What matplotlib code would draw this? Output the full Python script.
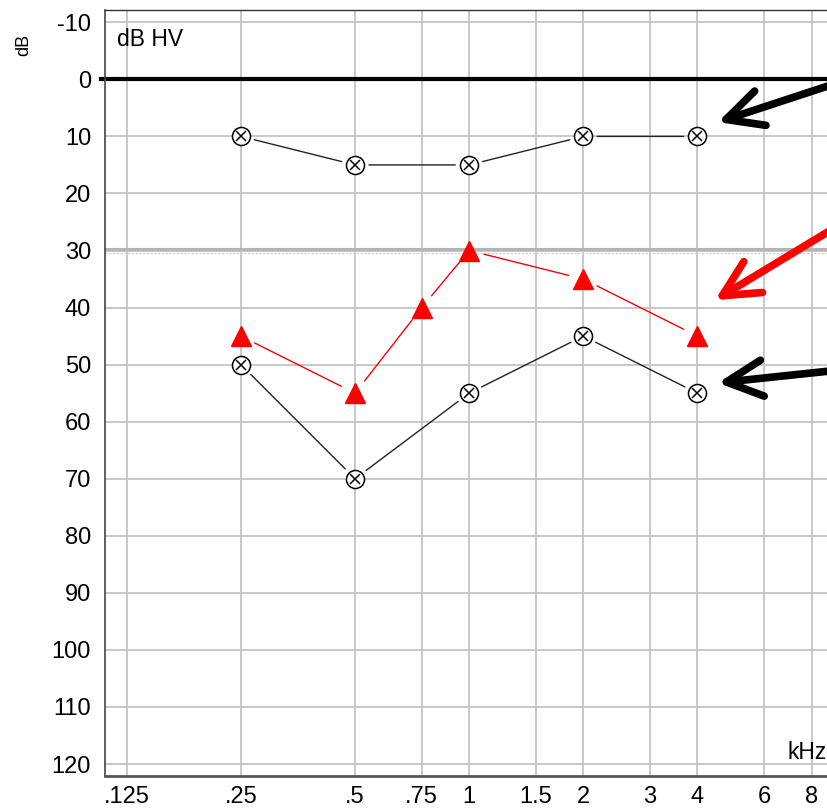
import matplotlib
matplotlib.use("Agg")
import matplotlib.pyplot as plt

plt.rcParams['font.family'] = ['Liberation Sans', 'DejaVu Sans']
plt.rcParams['axes.unicode_minus'] = False

# Datos del audiograma
frecuencias_ticks = [0.125, 0.25, 0.5, 0.75, 1, 1.5, 2, 3, 4, 6, 8]
etiquetas_x = ['.125', '.25', '.5', '.75', '1', '1.5', '2', '3', '4', '6', '8']
niveles_y = list(range(-10, 121, 10))

frec_negro = [0.25, 0.5, 1, 2, 4]
umbral_superior = [10, 15, 15, 10, 10]
umbral_inferior = [50, 70, 55, 45, 55]

frec_rojo = [0.25, 0.5, 0.75, 1, 2, 4]
umbral_rojo = [45, 55, 40, 30, 35, 45]

# Flechas (punta, cola) en coordenadas de datos
flechas = [
    ((4.53, 7.5), (10.1, -0.1), 'black'),
    ((4.45, 38.7), (10.1, 24.4), 'red'),
    ((4.53, 53.2), (10.1, 50.75), 'black'),
]


def segmentos(ax, xs, ys, color, hueco):
    for i in range(len(xs) - 1):
        ax.annotate('', xy=(xs[i + 1], ys[i + 1]), xytext=(xs[i], ys[i]),
                    arrowprops=dict(arrowstyle='-', color=color, lw=1,
                                    shrinkA=hueco, shrinkB=hueco))


fig = plt.figure(figsize=(8.28, 8.09), dpi=100)
ax = fig.add_axes([105 / 828, 1 - 776 / 809, 735 / 828, (776 - 10.3) / 809])
ax.set_xscale('log', base=2)
ax.set_xlim(0.1095, 9.51)
ax.set_ylim(122.1, -12.1)
ax.set_xticks(frecuencias_ticks)
ax.set_xticklabels(etiquetas_x)
ax.minorticks_off()
ax.set_yticks(niveles_y)
ax.tick_params(axis='both', length=0, labelsize=17)
ax.tick_params(axis='y', pad=10)
ax.tick_params(axis='x', pad=7)
ax.grid(True, color='#c4c4c4', lw=1.3)
ax.set_axisbelow(True)

ax.spines['right'].set_visible(False)
ax.spines['top'].set_color('#333333')
ax.spines['top'].set_linewidth(1)
ax.spines['left'].set_color('#444444')
ax.spines['left'].set_linewidth(1.2)
ax.spines['bottom'].set_color('#555555')
ax.spines['bottom'].set_linewidth(2)

# Linea de 0 dB y linea gris de 30 dB
ax.axhline(0, color='black', lw=3, xmin=-0.005, clip_on=False, zorder=2)
ax.axhline(29.75, color='#b4b4b4', lw=2.2, zorder=1.5)
ax.axhline(30.4, color='#d4d4d4', lw=0.9, ls=(0, (2, 1)), zorder=1.5)

# Curvas
segmentos(ax, frec_negro, umbral_superior, '#222222', 10)
segmentos(ax, frec_negro, umbral_inferior, '#222222', 10)
segmentos(ax, frec_rojo, umbral_rojo, 'red', 11)

for umbral in (umbral_superior, umbral_inferior):
    ax.plot(frec_negro, umbral, 'o', ms=13, mfc='white', mec='black',
            mew=1.1, zorder=4)
    ax.plot(frec_negro, umbral, 'x', ms=7, mec='black', mew=1.1, zorder=5)
ax.plot(frec_rojo, umbral_rojo, '^', ms=14.5, color='red', mec='red',
        zorder=4)

# Flechas
for punta, cola, color in flechas:
    ax.annotate('', xy=punta, xytext=cola, annotation_clip=False,
                arrowprops=dict(arrowstyle='->,head_length=2.6,head_width=1.3',
                                color=color, lw=5.5, capstyle='round',
                                joinstyle='round', shrinkA=0, shrinkB=0),
                zorder=6)

ax.text(0.0163, 0.9534, 'dB HV', transform=ax.transAxes, fontsize=16.5,
        va='baseline', ha='left')
ax.text(0.928, 0.0222, 'kHz', transform=ax.transAxes, fontsize=16.5,
        va='baseline', ha='left')
fig.text(24 / 828, 1 - 45 / 809, 'dB', rotation=90, ha='center',
         va='center', fontsize=13)

fig.savefig('out.png', dpi=100)
